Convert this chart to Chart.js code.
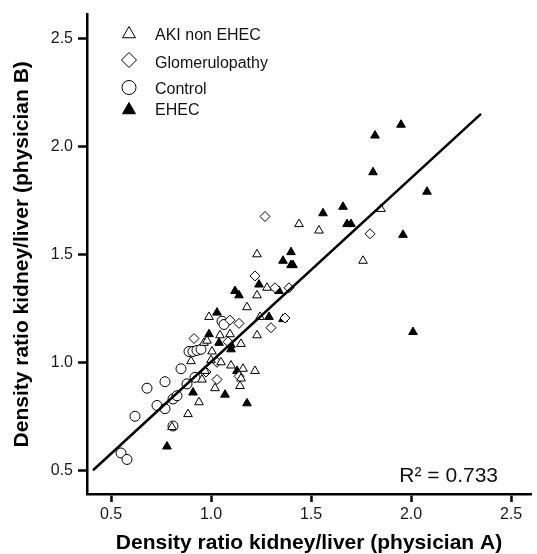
<!DOCTYPE html>
<html>
<head>
<meta charset="utf-8">
<script src="https://cdn.jsdelivr.net/npm/chart.js@4/dist/chart.umd.min.js"></script>
<style>
  html, body { margin: 0; padding: 0; background: #fff; }
  #wrap { width: 537px; height: 554px; }
</style>
</head>
<body>
<div id="wrap"><canvas id="chart" width="537" height="554"></canvas></div>
<script>
// ticks
const xTicks = [0.5, 1.0, 1.5, 2.0, 2.5];
const yTicks = [0.5, 1.0, 1.5, 2.0, 2.5];

// AKI non EHEC (open triangles)
const akiX = [1.85, 1.44, 1.54, 1.76, 1.23, 1.28, 1.23, 1.18, 0.99, 1.245, 1.23, 1.045, 1.095, 0.965, 0.98, 1.15,
  1.005, 0.90, 1.00, 1.05, 1.10, 1.16, 1.22, 0.97, 0.955, 1.02, 1.15, 1.145, 0.94, 0.885, 0.805];
const akiY = [1.71, 1.64, 1.61, 1.47, 1.50, 1.345, 1.31, 1.255, 1.21, 1.21, 1.125, 1.125, 1.13, 1.09, 1.10, 1.085,
  1.05, 1.005, 1.01, 1.00, 0.985, 0.97, 0.96, 0.96, 0.92, 0.88, 0.925, 0.89, 0.815, 0.76, 0.70];

// Glomerulopathy (open diamonds)
const glomX = [1.27, 1.795, 1.22, 1.32, 1.39, 1.37, 1.30, 0.915, 1.095, 1.14, 1.085, 1.03, 1.03, 1.14, 0.975];
const glomY = [1.675, 1.595, 1.40, 1.345, 1.345, 1.205, 1.16, 1.11, 1.195, 1.18, 1.095, 1.00, 0.92, 0.935, 0.955];

// Control (open circles)
const ctrlX = [0.55, 0.58, 0.62, 0.68, 0.77, 0.73, 0.77, 0.81, 0.83, 0.81, 0.85, 0.88, 0.89, 0.91, 0.93, 0.95,
  0.92, 1.055, 1.065];
const ctrlY = [0.58, 0.55, 0.75, 0.88, 0.91, 0.80, 0.785, 0.83, 0.845, 0.705, 0.97, 0.90, 1.05, 1.05, 1.055, 1.06,
  0.93, 1.19, 1.175];

// EHEC (filled triangles)
const ehecX = [1.95, 1.82, 1.81, 2.08, 1.66, 1.56, 1.68, 1.70, 1.96, 1.40, 1.36, 1.40, 1.41, 1.24, 1.12, 1.14,
  1.34, 1.03, 1.29, 1.36, 0.99, 1.04, 1.10, 1.10, 1.13, 0.91, 1.07, 1.18, 2.01, 0.78];
const ehecY = [2.10, 2.05, 1.88, 1.79, 1.72, 1.69, 1.64, 1.64, 1.59, 1.51, 1.47, 1.45, 1.45, 1.36, 1.33, 1.31,
  1.33, 1.23, 1.21, 1.20, 1.13, 1.09, 1.08, 1.06, 0.96, 0.86, 0.85, 0.81, 1.14, 0.61];

// regression line
const fitX = [0.41, 2.35];
const fitY = [0.50, 2.15];
const r2Text = "R\u00B2 = 0.733";

const FONT = "'Liberation Sans', Arial, Helvetica, sans-serif";
Chart.defaults.font.family = FONT;

function pts(xs, ys) { return xs.map((x, i) => ({ x: x, y: ys[i] })); }

function marker(ctx, style, x, y, r) {
  ctx.beginPath();
  if (style === "circle") {
    ctx.arc(x, y, r, 0, Math.PI * 2);
  } else if (style === "rectRot") {
    ctx.moveTo(x - r, y); ctx.lineTo(x, y - r); ctx.lineTo(x + r, y); ctx.lineTo(x, y + r);
  } else {
    for (let k = 0; k < 3; k++) {
      const a = k * 2 * Math.PI / 3;
      const px = x + Math.sin(a) * r, py = y - Math.cos(a) * r;
      if (k === 0) ctx.moveTo(px, py); else ctx.lineTo(px, py);
    }
  }
  ctx.closePath();
  ctx.fill();
  ctx.stroke();
}

// legend inside the plot + R² note
const overlay = {
  id: "overlay",
  afterDraw(chart) {
    const ctx = chart.ctx;
    const rows = [
      { my: 34, ty: 39.5, r: 7.5 },
      { my: 60, ty: 68, r: 7.5 },
      { my: 87.5, ty: 93.5, r: 7 },
      { my: 110, ty: 115, r: 7.5 },
    ];
    const sets = chart.data.datasets.filter((d) => d.inLegend);
    ctx.save();
    sets.forEach((d, i) => {
      const row = rows[i];
      ctx.fillStyle = d.backgroundColor;
      ctx.strokeStyle = "#000";
      ctx.lineWidth = 1;
      marker(ctx, d.pointStyle, 129, row.my, row.r);
      ctx.fillStyle = "#111";
      ctx.font = "16px " + FONT;
      ctx.textAlign = "left";
      ctx.textBaseline = "alphabetic";
      ctx.fillText(d.label, 155, row.ty);
    });
    ctx.font = "21px " + FONT;
    ctx.textAlign = "right";
    ctx.fillStyle = "#111";
    ctx.fillText(r2Text, 498, 481.5);
    ctx.restore();
  }
};

function pointSet(label, xs, ys, style, fill) {
  return {
    label: label, inLegend: true, data: pts(xs, ys), order: 1,
    pointStyle: style, pointRadius: 5, pointBorderWidth: 1,
    backgroundColor: fill, borderColor: "#000",
    pointBackgroundColor: fill, pointBorderColor: "#000",
  };
}

function axis(min, max, ticks, title, isX) {
  return {
    type: "linear", min: min, max: max,
    afterBuildTicks: (s) => { s.ticks = ticks.map((v) => ({ value: v })); },
    afterFit: (s) => { if (isX) s.height = 60; else s.width = 87; },
    border: { display: true, color: "#000", width: 2.5 },
    grid: { drawOnChartArea: false, drawTicks: true, tickLength: isX ? 8 : 9, tickWidth: 2.5, tickColor: "#000" },
    ticks: {
      color: "#1a1a1a", font: { size: 16 }, padding: isX ? 3 : 5,
      callback: (v) => Number(v).toFixed(1),
    },
    title: {
      display: true, text: title, color: "#000",
      font: { size: 21, weight: "bold", lineHeight: 1 },
      padding: isX ? { top: 0, bottom: 0 } : { top: 12, bottom: 0 },
    },
  };
}

new Chart(document.getElementById("chart").getContext("2d"), {
  type: "scatter",
  data: {
    datasets: [
      pointSet("AKI non EHEC", akiX, akiY, "triangle", "#fff"),
      pointSet("Glomerulopathy", glomX, glomY, "rectRot", "#fff"),
      pointSet("Control", ctrlX, ctrlY, "circle", "#fff"),
      pointSet("EHEC", ehecX, ehecY, "triangle", "#000"),
      {
        type: "line", label: "fit", data: pts(fitX, fitY), order: 0,
        borderColor: "#000", borderWidth: 2.5, pointRadius: 0, fill: false, tension: 0,
      },
    ],
  },
  options: {
    responsive: false, animation: false, events: [],
    layout: { padding: { top: 13, right: 0, left: 0, bottom: 0 } },
    plugins: { legend: { display: false }, tooltip: { enabled: false } },
    scales: {
      x: axis(0.38, 2.6, xTicks, "Density ratio kidney/liver (physician A)", true),
      y: axis(0.39, 2.61, yTicks, "Density ratio kidney/liver (physician B)", false),
    },
  },
  plugins: [overlay],
});
</script>
</body>
</html>
